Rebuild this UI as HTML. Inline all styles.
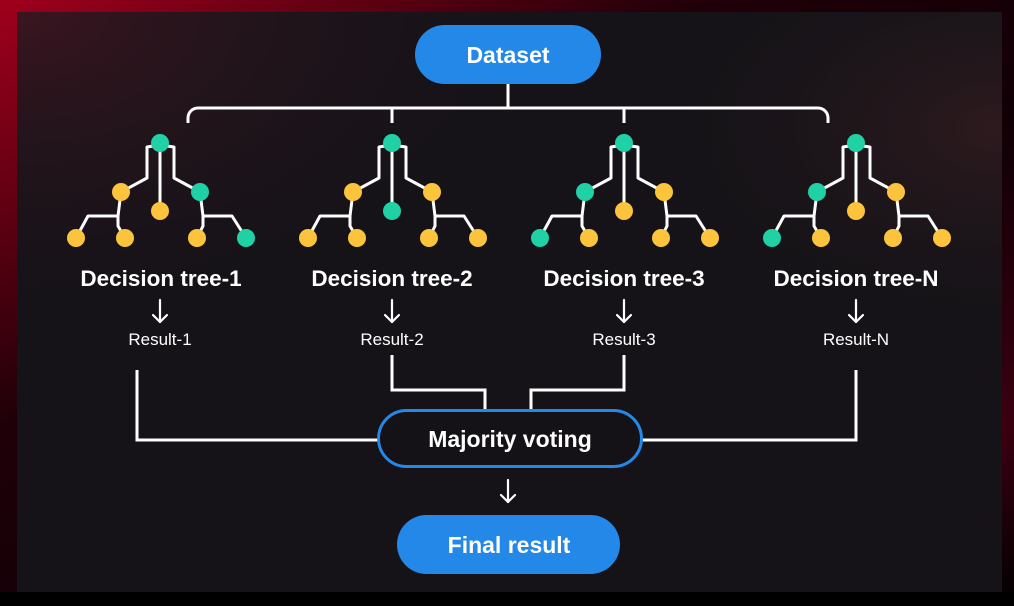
<!DOCTYPE html>
<html><head><meta charset="utf-8"><style>
html,body{margin:0;padding:0;width:1014px;height:606px;overflow:hidden;background:#000}
svg{display:block}
text{font-family:"Liberation Sans",sans-serif;fill:#fff}
</style></head><body>
<svg width="1014" height="606" viewBox="0 0 1014 606">
<defs>
<linearGradient id="fr" x1="0" y1="0" x2="1" y2="1">
<stop offset="0" stop-color="#a0001c"/><stop offset="0.35" stop-color="#200008"/><stop offset="0.6" stop-color="#100006"/><stop offset="0.85" stop-color="#3a0010"/><stop offset="1" stop-color="#000"/>
</linearGradient>
<radialGradient id="g1" cx="0" cy="0" r="0.6"><stop offset="0" stop-color="#3a1520"/><stop offset="1" stop-color="#151318" stop-opacity="0"/></radialGradient>
<radialGradient id="g2" cx="1" cy="0.2" r="0.4"><stop offset="0" stop-color="#2e1a1e"/><stop offset="1" stop-color="#151318" stop-opacity="0"/></radialGradient>
<g id="lines" fill="none" stroke="#fff" stroke-width="3" stroke-linejoin="round">
<polyline points="153,146 147,147 147,178 121,192"/>
<polyline points="167,146 174,147 174,178 200,192"/>
<line x1="160" y1="143" x2="160" y2="211"/>
<polyline points="121,192 118,216 88,216 76,238"/>
<polyline points="118,216 118,226 125,238"/>
<polyline points="200,192 203,216 232,216 246,238"/>
<polyline points="203,216 203,226 197,238"/>
</g>
<g id="arr" fill="none" stroke="#fff" stroke-width="2.2" stroke-linecap="round" stroke-linejoin="round">
<line x1="0" y1="-11" x2="0" y2="11"/>
<polyline points="-7,4 0,11 7,4"/>
</g>
</defs>
<rect width="1014" height="606" fill="url(#fr)"/>
<rect x="0" y="592" width="1014" height="14" fill="#000"/>
<rect x="17" y="12" width="985" height="580" fill="#151318"/>
<rect x="17" y="12" width="985" height="580" fill="url(#g1)"/>
<rect x="17" y="12" width="985" height="580" fill="url(#g2)"/>

<g fill="none" stroke="#fff" stroke-width="3">
<line x1="508" y1="84" x2="508" y2="108"/>
<path d="M188,123 v-5 a10,10 0 0 1 10,-10 H818 a10,10 0 0 1 10,10 v5"/>
<line x1="392" y1="108" x2="392" y2="123"/>
<line x1="624" y1="108" x2="624" y2="123"/>
</g>
<rect x="415" y="25" width="186" height="59" rx="29.5" fill="#2388e8"/>
<text x="508" y="63" font-size="23" font-weight="bold" text-anchor="middle">Dataset</text>

<g><use href="#lines"/>
<circle cx="160" cy="143" r="9" fill="#1fd1a5"/>
<circle cx="121" cy="192" r="9" fill="#fcc43c"/><circle cx="160" cy="211" r="9" fill="#fcc43c"/><circle cx="200" cy="192" r="9" fill="#1fd1a5"/>
<circle cx="76" cy="238" r="9" fill="#fcc43c"/><circle cx="125" cy="238" r="9" fill="#fcc43c"/><circle cx="197" cy="238" r="9" fill="#fcc43c"/><circle cx="246" cy="238" r="9" fill="#1fd1a5"/>
</g>
<g transform="translate(232,0)"><use href="#lines"/>
<circle cx="160" cy="143" r="9" fill="#1fd1a5"/>
<circle cx="121" cy="192" r="9" fill="#fcc43c"/><circle cx="160" cy="211" r="9" fill="#1fd1a5"/><circle cx="200" cy="192" r="9" fill="#fcc43c"/>
<circle cx="76" cy="238" r="9" fill="#fcc43c"/><circle cx="125" cy="238" r="9" fill="#fcc43c"/><circle cx="197" cy="238" r="9" fill="#fcc43c"/><circle cx="246" cy="238" r="9" fill="#fcc43c"/>
</g>
<g transform="translate(464,0)"><use href="#lines"/>
<circle cx="160" cy="143" r="9" fill="#1fd1a5"/>
<circle cx="121" cy="192" r="9" fill="#1fd1a5"/><circle cx="160" cy="211" r="9" fill="#fcc43c"/><circle cx="200" cy="192" r="9" fill="#fcc43c"/>
<circle cx="76" cy="238" r="9" fill="#1fd1a5"/><circle cx="125" cy="238" r="9" fill="#fcc43c"/><circle cx="197" cy="238" r="9" fill="#fcc43c"/><circle cx="246" cy="238" r="9" fill="#fcc43c"/>
</g>
<g transform="translate(696,0)"><use href="#lines"/>
<circle cx="160" cy="143" r="9" fill="#1fd1a5"/>
<circle cx="121" cy="192" r="9" fill="#1fd1a5"/><circle cx="160" cy="211" r="9" fill="#fcc43c"/><circle cx="200" cy="192" r="9" fill="#fcc43c"/>
<circle cx="76" cy="238" r="9" fill="#1fd1a5"/><circle cx="125" cy="238" r="9" fill="#fcc43c"/><circle cx="197" cy="238" r="9" fill="#fcc43c"/><circle cx="246" cy="238" r="9" fill="#fcc43c"/>
</g>

<g font-size="22.5" font-weight="bold" text-anchor="middle">
<text x="161" y="286">Decision tree-1</text>
<text x="392" y="286">Decision tree-2</text>
<text x="624" y="286">Decision tree-3</text>
<text x="856" y="286">Decision tree-N</text>
</g>
<use href="#arr" x="160" y="311"/><use href="#arr" x="392" y="311"/><use href="#arr" x="624" y="311"/><use href="#arr" x="856" y="311"/>
<use href="#arr" x="508" y="491"/>
<g font-size="17" text-anchor="middle">
<text x="160" y="345">Result-1</text><text x="392" y="345">Result-2</text><text x="624" y="345">Result-3</text><text x="856" y="345">Result-N</text>
</g>

<g fill="none" stroke="#fff" stroke-width="3">
<polyline points="137,370 137,440 378,440"/>
<polyline points="392,355 392,390 485,390 485,409"/>
<polyline points="624,355 624,390 531,390 531,409"/>
<polyline points="856,370 856,440 642,440"/>
</g>
<rect x="378.5" y="410.5" width="263" height="56" rx="28" fill="#141217" stroke="#2388e8" stroke-width="3"/>
<text x="510" y="447" font-size="23" font-weight="bold" text-anchor="middle">Majority voting</text>
<rect x="397" y="515" width="223" height="59" rx="29.5" fill="#2388e8"/>
<text x="509" y="553" font-size="23" font-weight="bold" text-anchor="middle">Final result</text>
</svg>
</body></html>
